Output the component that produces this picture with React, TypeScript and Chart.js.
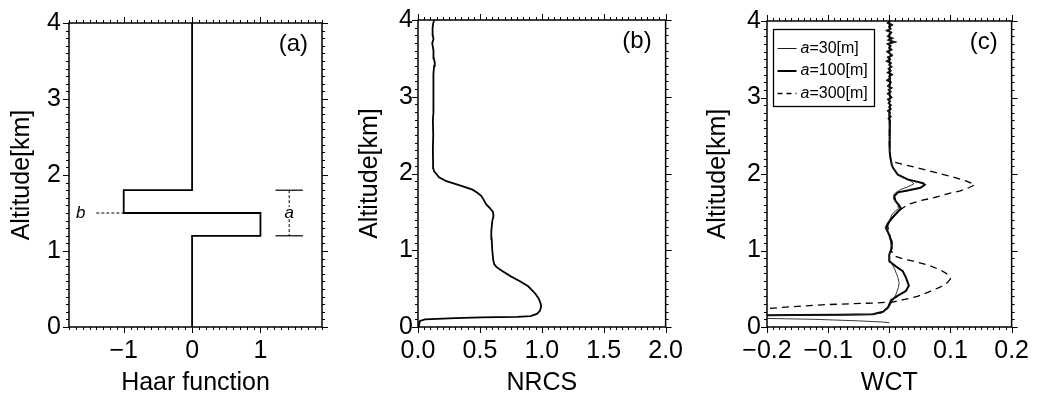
import React, { useEffect, useRef } from "react";
import { Chart, registerables } from "chart.js";

Chart.register(...registerables);

// ---------- tick labels ----------
const altitudeTicks = [0, 1, 2, 3, 4];
const haarTicks = [-1, 0, 1];
const nrcsTicks = [0, 0.5, 1, 1.5, 2];
const wctTicks = [-0.2, -0.1, 0, 0.1, 0.2];

// ---------- (a) Haar function ----------
const haarX = [0, 0, -1, -1, 1, 1, 0, 0];
const haarAlt = [4, 1.8, 1.8, 1.5, 1.5, 1.2, 1.2, 0];
const aCapX = [1.22, 1.62];
const aCapAlt = [1.8, 1.2];
const aDashX = 1.42;
const aDashUpper = [1.8, 1.58];
const aDashLower = [1.42, 1.2];
const bDashX = [-1.4, -1.0];
const bLevel = 1.5;
const bLabelX = -1.63;

// ---------- (b) NRCS ----------
const nrcsX = [
  0.0, 0.008, 0.016, 0.056, 0.3, 0.51, 0.8, 0.91, 0.96, 0.985, 0.995, 0.99, 0.975, 0.95, 0.92, 0.89,
  0.82, 0.75, 0.68, 0.635, 0.615, 0.607, 0.6, 0.595, 0.592, 0.6, 0.61, 0.605, 0.58, 0.55, 0.53, 0.51,
  0.48, 0.44, 0.35, 0.23, 0.17, 0.15, 0.13, 0.123, 0.122, 0.12, 0.123, 0.12, 0.125, 0.122, 0.127,
  0.122, 0.128, 0.124, 0.13, 0.135, 0.128, 0.125, 0.115, 0.125, 0.12, 0.118, 0.122, 0.13,
];
const nrcsAlt = [
  0.0, 0.03, 0.08, 0.1, 0.115, 0.125, 0.133, 0.143, 0.17, 0.21, 0.27, 0.31, 0.37, 0.43, 0.48, 0.53,
  0.6, 0.66, 0.73, 0.78, 0.82, 0.88, 1.0, 1.15, 1.25, 1.38, 1.45, 1.5, 1.55, 1.6, 1.66, 1.71,
  1.75, 1.79, 1.84, 1.9, 1.95, 1.99, 2.03, 2.07, 2.15, 2.3, 2.5, 2.7, 2.8, 2.9, 3.0,
  3.1, 3.2, 3.3, 3.4, 3.45, 3.5, 3.6, 3.7, 3.75, 3.8, 3.9, 3.95, 4.0,
];

// ---------- (c) WCT ----------
const upperAlt = [
  4.0, 3.975, 3.95, 3.925, 3.9, 3.875, 3.85, 3.825, 3.8, 3.775, 3.75, 3.725, 3.7, 3.675, 3.65, 3.625,
  3.6, 3.575, 3.55, 3.525, 3.5, 3.475, 3.45, 3.425, 3.4, 3.375, 3.35, 3.325, 3.3, 3.275, 3.25, 3.225,
  3.2, 3.175, 3.15, 3.125, 3.1, 3.075, 3.05, 3.025, 3.0, 2.975, 2.95, 2.925, 2.9, 2.875, 2.85, 2.825,
  2.8, 2.775, 2.75, 2.725, 2.7, 2.6, 2.5, 2.4, 2.3,
];
const wct30Upper = [
  0.002, -0.004, 0.006, -0.001, 0.003, -0.006, 0.004, 0.001, -0.003, 0.007,
  -0.002, 0.012, -0.004, 0.003, -0.001, 0.005, -0.005, 0.002, 0.006, -0.003,
  0.001, -0.006, 0.004, 0.0, 0.005, -0.002, 0.003, -0.004, 0.006, -0.001,
  0.002, -0.005, 0.004, 0.001, -0.003, 0.005, -0.002, 0.003, -0.004, 0.002,
  0.005, -0.003, 0.001, -0.002, 0.004, -0.001, 0.003, -0.003, 0.002, 0.0,
  0.003, -0.002, 0.001, 0.0, 0.001, 0.0, 0.001,
];
const wct100Upper = [
  0.001, -0.002, 0.004, 0.0, 0.002, -0.003, 0.003, 0.001, -0.002, 0.004,
  -0.001, 0.007, -0.002, 0.002, 0.0, 0.003, -0.003, 0.001, 0.004, -0.002,
  0.001, -0.003, 0.002, 0.0, 0.003, -0.001, 0.002, -0.002, 0.004, 0.0,
  0.001, -0.003, 0.002, 0.001, -0.002, 0.003, -0.001, 0.002, -0.002, 0.001,
  0.003, -0.002, 0.001, -0.001, 0.002, 0.0, 0.002, -0.002, 0.001, 0.0,
  0.002, -0.001, 0.001, 0.0, 0.001, 0.0, 0.001,
];
const wct30LowerX = [
  0.002, 0.005, 0.012, 0.025, 0.037, 0.04, 0.03, 0.019, 0.008, 0.007, 0.014, 0.015, 0.005, 0.001,
  -0.004, -0.007, -0.002, 0.005, 0.003, 0.0, 0.0, 0.008, 0.014, 0.016, 0.015, 0.011, 0.006, -0.002,
  -0.013, -0.032, -0.1, -0.2, -0.3, -0.3, -0.2, -0.12, -0.05, -0.01, 0.0,
];
const wct30LowerAlt = [
  2.2, 2.1, 2.0, 1.94, 1.9, 1.87, 1.83, 1.8, 1.74, 1.67, 1.6, 1.55, 1.48, 1.41,
  1.35, 1.3, 1.22, 1.12, 1.03, 0.95, 0.88, 0.77, 0.65, 0.58, 0.52, 0.43, 0.35, 0.24,
  0.18, 0.163, 0.157, 0.152, 0.148, 0.12, 0.112, 0.1, 0.08, 0.065, 0.055,
];
const wct100LowerX = [
  0.002, 0.004, 0.006, 0.014, 0.03, 0.045, 0.055, 0.058, 0.051, 0.03, 0.014, 0.008, 0.01, 0.016,
  0.019, 0.011, 0.003, -0.002, -0.005, 0.0, 0.003, 0.004, 0.0, 0.0, 0.011, 0.022, 0.027, 0.032,
  0.027, 0.014, 0.003, -0.002, -0.01, -0.027, -0.08, -0.15, -0.3,
];
const wct100LowerAlt = [
  2.2, 2.12, 2.08, 1.99, 1.93, 1.9, 1.88, 1.86, 1.82, 1.785, 1.76, 1.71, 1.65, 1.59,
  1.55, 1.48, 1.41, 1.35, 1.29, 1.2, 1.12, 1.03, 0.95, 0.86, 0.79, 0.73, 0.65, 0.54,
  0.47, 0.41, 0.35, 0.26, 0.2, 0.168, 0.16, 0.156, 0.15,
];
const wct300X = [
  0.0, 0.001, 0.0, 0.002, 0.006, 0.025, 0.046, 0.075, 0.1, 0.125, 0.14, 0.13, 0.116, 0.095, 0.073,
  0.05, 0.03, 0.019, 0.01, 0.003, -0.003, 0.0, 0.004, 0.003, 0.008, 0.022, 0.04, 0.067, 0.085, 0.097,
  0.1, 0.095, 0.083, 0.065, 0.046, 0.025, 0.008, -0.02, -0.06, -0.11, -0.16, -0.2, -0.3,
];
const wct300Alt = [
  4.0, 3.0, 2.4, 2.2, 2.16, 2.12, 2.08, 2.02, 1.97, 1.91, 1.86, 1.82, 1.78, 1.74, 1.69,
  1.65, 1.6, 1.54, 1.48, 1.41, 1.33, 1.22, 1.1, 1.0, 0.93, 0.89, 0.86, 0.8, 0.74, 0.68,
  0.63, 0.58, 0.52, 0.46, 0.4, 0.36, 0.33, 0.315, 0.305, 0.29, 0.265, 0.24, 0.2,
];
const legendScales = [30, 100, 300];

// ---------- helpers ----------
const FONT = "'Liberation Sans', Arial, Helvetica, sans-serif";

const pts = (xs: number[], ys: number[]) => xs.map((x, i) => ({ x, y: ys[i] }));

function fmt(v: number, dec: number) {
  const s = Math.abs(v).toFixed(dec);
  return v < -1e-9 ? "\u2212" + s : s;
}

function framePlugin(xMinor: number, xMajor: number, yMinor: number, yMajor: number, label: string) {
  return {
    id: "frame",
    afterDraw(chart: any) {
      const { ctx, chartArea: a, scales } = chart;
      ctx.save();
      ctx.strokeStyle = "#000";
      ctx.lineWidth = 1;
      const draw = (scale: any, minor: number, major: number, horiz: boolean) => {
        const start = Math.ceil(scale.min / minor - 1e-6);
        const end = Math.floor(scale.max / minor + 1e-6);
        for (let i = start; i <= end; i++) {
          const v = i * minor;
          const r = v / major;
          const isMajor = Math.abs(r - Math.round(r)) < 1e-6;
          const len = isMajor ? 6 : 3;
          const p = Math.round(scale.getPixelForValue(v)) + 0.5;
          ctx.beginPath();
          if (horiz) {
            ctx.moveTo(p, a.bottom);
            ctx.lineTo(p, a.bottom + len);
            ctx.moveTo(p, a.top);
            ctx.lineTo(p, a.top - len);
          } else {
            ctx.moveTo(a.left, p);
            ctx.lineTo(a.left - len, p);
            ctx.moveTo(a.right, p);
            ctx.lineTo(a.right + len, p);
          }
          ctx.stroke();
        }
      };
      draw(scales.x, xMinor, xMajor, true);
      draw(scales.y, yMinor, yMajor, false);
      ctx.lineWidth = 1.5;
      ctx.strokeRect(a.left, a.top, a.right - a.left, a.bottom - a.top);
      ctx.fillStyle = "#000";
      ctx.font = `24px ${FONT}`;
      ctx.textAlign = "right";
      ctx.textBaseline = "middle";
      ctx.fillText(label, a.right - 14, a.top + 21);
      ctx.restore();
    },
  };
}

function makeScales(o: {
  xMin: number; xMax: number; xTicks: number[]; xDec: number; xTitle: string;
  yW: number; yPad: number; yTitlePad: number;
}) {
  return {
    x: {
      type: "linear",
      min: o.xMin,
      max: o.xMax,
      afterBuildTicks: (s: any) => {
        s.ticks = o.xTicks.map((v) => ({ value: v }));
      },
      afterFit: (s: any) => {
        s.height = 69;
      },
      grid: { display: false, drawTicks: false },
      border: { display: false },
      ticks: {
        autoSkip: false,
        maxRotation: 0,
        padding: 9,
        color: "#000",
        font: { family: FONT, size: 25 },
        callback: (v: any) => fmt(Number(v), o.xDec),
      },
      title: {
        display: true,
        text: o.xTitle,
        color: "#000",
        font: { family: FONT, size: 25, lineHeight: 1 },
        padding: { top: 0, bottom: 0 },
      },
    },
    y: {
      type: "linear",
      min: 0,
      max: 4,
      afterBuildTicks: (s: any) => {
        s.ticks = altitudeTicks.map((v) => ({ value: v }));
      },
      afterFit: (s: any) => {
        s.width = o.yW;
      },
      grid: { display: false, drawTicks: false },
      border: { display: false },
      ticks: {
        autoSkip: false,
        padding: o.yPad,
        color: "#000",
        font: { family: FONT, size: 25 },
        callback: (v: any) => fmt(Number(v), 0),
      },
      title: {
        display: true,
        text: "Altitude[km]",
        color: "#000",
        font: { family: FONT, size: 25, lineHeight: 1 },
        padding: { top: o.yTitlePad, bottom: 0 },
      },
    },
  };
}

const lineDs = (data: any[], width: number, dash: number[] = [], color = "#000") => ({
  data,
  showLine: true,
  borderColor: color,
  borderWidth: width,
  borderDash: dash,
  pointRadius: 0,
  pointHoverRadius: 0,
  fill: false,
  tension: 0,
});

const haarLabelsPlugin = {
  id: "haarLabels",
  afterDatasetsDraw(chart: any) {
    const { ctx, scales } = chart;
    ctx.save();
    ctx.fillStyle = "#000";
    ctx.font = `italic 17px ${FONT}`;
    ctx.textAlign = "center";
    ctx.textBaseline = "middle";
    ctx.fillText("b", scales.x.getPixelForValue(bLabelX), scales.y.getPixelForValue(bLevel));
    ctx.fillText("a", scales.x.getPixelForValue(aDashX), scales.y.getPixelForValue(bLevel));
    ctx.restore();
  },
};

const wctLegendPlugin = {
  id: "wctLegend",
  afterDraw(chart: any) {
    const { ctx, chartArea: a } = chart;
    const L = a.left + 6.5, T = a.top + 8.5, W = 101, H = 77;
    ctx.save();
    ctx.fillStyle = "#fff";
    ctx.fillRect(L, T, W, H);
    ctx.strokeStyle = "#000";
    ctx.lineWidth = 1.3;
    ctx.strokeRect(L, T, W, H);
    const styles = [
      { w: 0.9, dash: [] as number[] },
      { w: 2.0, dash: [] as number[] },
      { w: 1.3, dash: [5, 4] },
    ];
    legendScales.forEach((sc, i) => {
      const y = T + 19 + i * 22.5;
      ctx.beginPath();
      ctx.setLineDash(styles[i].dash);
      ctx.lineWidth = styles[i].w;
      ctx.moveTo(L + 4, y);
      ctx.lineTo(L + 23, y);
      ctx.stroke();
      ctx.setLineDash([]);
      ctx.fillStyle = "#000";
      ctx.textBaseline = "middle";
      ctx.textAlign = "left";
      ctx.font = `italic 16px ${FONT}`;
      ctx.fillText("a", L + 27, y);
      const aw = ctx.measureText("a").width;
      ctx.font = `16px ${FONT}`;
      ctx.fillText(`=${sc}[m]`, L + 27 + aw, y);
    });
    ctx.restore();
  },
};

function usePanel(ref: React.RefObject<HTMLCanvasElement | null>, build: () => any) {
  useEffect(() => {
    if (!ref.current) return;
    const chart = new Chart(ref.current, build());
    return () => chart.destroy();
  }, []);
}

const baseOptions = (scales: any, right: number) => ({
  animation: false,
  responsive: false,
  events: [],
  layout: { padding: { left: 0, right, top: 15, bottom: 0 } },
  plugins: { legend: { display: false }, tooltip: { enabled: false } },
  scales,
});

export default function App() {
  const refA = useRef<HTMLCanvasElement>(null);
  const refB = useRef<HTMLCanvasElement>(null);
  const refC = useRef<HTMLCanvasElement>(null);

  usePanel(refA, () => ({
    type: "scatter",
    data: {
      datasets: [
        lineDs(pts(haarX, haarAlt), 1.8),
        lineDs(pts(aCapX, [aCapAlt[0], aCapAlt[0]]), 1.2),
        lineDs(pts(aCapX, [aCapAlt[1], aCapAlt[1]]), 1.2),
        lineDs(pts([aDashX, aDashX], aDashUpper), 1, [3, 2]),
        lineDs(pts([aDashX, aDashX], aDashLower), 1, [3, 2]),
        lineDs(pts(bDashX, [bLevel, bLevel]), 1, [3, 2]),
      ],
    },
    options: baseOptions(
      makeScales({ xMin: -1.8, xMax: 1.9, xTicks: haarTicks, xDec: 0, xTitle: "Haar function", yW: 69, yPad: 8, yTitlePad: 10 }),
      24
    ),
    plugins: [framePlugin(0.1, 1, 0.1, 1, "(a)"), haarLabelsPlugin],
  }));

  usePanel(refB, () => ({
    type: "scatter",
    data: { datasets: [lineDs(pts(nrcsX, nrcsAlt), 1.8)] },
    options: baseOptions(
      makeScales({ xMin: 0, xMax: 2, xTicks: nrcsTicks, xDec: 1, xTitle: "NRCS", yW: 72, yPad: 5, yTitlePad: 11.5 }),
      25
    ),
    plugins: [framePlugin(0.05, 0.5, 0.1, 1, "(b)")],
  }));

  usePanel(refC, () => ({
    type: "scatter",
    data: {
      datasets: [
        lineDs(pts(wct300X, wct300Alt), 1.3, [7, 5]),
        lineDs(pts([...wct30Upper, ...wct30LowerX], [...upperAlt, ...wct30LowerAlt]), 0.9, [], "#222"),
        lineDs(pts([...wct100Upper, ...wct100LowerX], [...upperAlt, ...wct100LowerAlt]), 2.0),
      ],
    },
    options: baseOptions(
      makeScales({ xMin: -0.2, xMax: 0.2, xTicks: wctTicks, xDec: 1, xTitle: "WCT", yW: 75, yPad: 6, yTitlePad: 14 }),
      22
    ),
    plugins: [framePlugin(0.01, 0.1, 0.1, 1, "(c)"), wctLegendPlugin],
  }));

  const cs = (left: number): React.CSSProperties => ({
    position: "absolute",
    left,
    top: 0,
    width: 346,
    height: 396,
  });

  return (
    <div style={{ position: "absolute", left: 0, top: 0, width: 1038, height: 396, background: "#fff" }}>
      <canvas ref={refA} width={346} height={396} style={cs(0)} />
      <canvas ref={refB} width={346} height={396} style={cs(346)} />
      <canvas ref={refC} width={346} height={396} style={cs(692)} />
    </div>
  );
}
